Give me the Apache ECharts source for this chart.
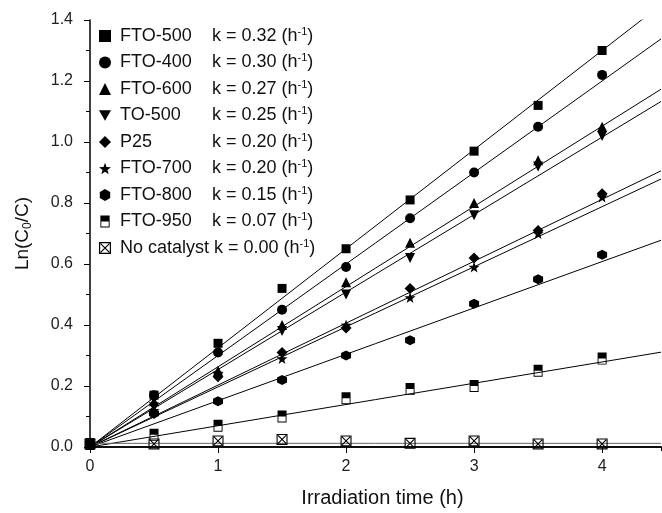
<!DOCTYPE html>
<html>
<head>
<meta charset="utf-8">
<script src="https://cdn.jsdelivr.net/npm/echarts@6/dist/echarts.min.js"></script>
<style>
  html, body { margin: 0; padding: 0; background: #fff; }
  #chart { width: 662px; height: 513px; }
</style>
</head>
<body>
<div id="chart"></div>
<script>
// irradiation times (h)
var times = [0, 0.5, 1, 1.5, 2, 2.5, 3, 3.5, 4];

// Ln(C0/C)
var fto500 = [0.01, 0.17, 0.34, 0.52, 0.65, 0.81, 0.97, 1.12, 1.30];
var fto400 = [0.01, 0.17, 0.31, 0.45, 0.59, 0.75, 0.90, 1.05, 1.22];
var fto600 = [0.01, 0.15, 0.25, 0.40, 0.54, 0.67, 0.80, 0.94, 1.05];
var to500 = [0.01, 0.13, 0.23, 0.38, 0.50, 0.62, 0.76, 0.92, 1.02];
var p25 = [0.01, 0.11, 0.23, 0.31, 0.39, 0.52, 0.62, 0.71, 0.83];
var fto700 = [0.01, 0.12, 0.24, 0.29, 0.40, 0.49, 0.59, 0.70, 0.82];
var fto800 = [0.01, 0.11, 0.15, 0.22, 0.30, 0.35, 0.47, 0.55, 0.63];
var fto950 = [0.01, 0.04, 0.07, 0.10, 0.16, 0.19, 0.20, 0.25, 0.29];
var noCat = [0.01, 0.01, 0.02, 0.025, 0.02, 0.012, 0.02, 0.01, 0.01];

var names = ['FTO-500', 'FTO-400', 'FTO-600', 'TO-500', 'P25', 'FTO-700', 'FTO-800', 'FTO-950', 'No catalyst'];
var kLabels = ['0.32', '0.30', '0.27', '0.25', '0.20', '0.20', '0.15', '0.07', '0.00'];
// slope / intercept of the fitted lines as drawn
var fitK = [0.325, 0.300, 0.263, 0.254, 0.203, 0.197, 0.152, 0.0697, 0];
var fitB = [0, 0, 0, 0, 0, 0, 0, 0, 0.012];

var xMax = 4.46;

var hexPath = 'path://M10 0 L18.66 5 L18.66 15 L10 20 L1.34 15 L1.34 5 Z';
var starPath = 'path://M10 0 L12.35 6.76 L19.51 6.91 L13.8 11.24 L15.88 18.09 L10 14 L4.12 18.09 L6.2 11.24 L0.49 6.91 L7.65 6.76 Z';
var halfPath = 'path://M0 0 L20 0 L20 26 L0 26 Z M2 13 L2 24 L18 24 L18 13 Z';
var boxXPath = 'path://M0 0 L20 0 L20 20 L0 20 Z M2 2 L2 18 L18 18 L18 2 Z M2 3.4 L3.4 2 L18 16.6 L16.6 18 Z M16.6 2 L18 3.4 L3.4 18 L2 16.6 Z';

var symbols = ['rect', 'circle', 'triangle', 'path://M0 0 L20 0 L10 17.3 Z', 'diamond', starPath, hexPath, halfPath, boxXPath];
var sizes = [9, 10, 10, 10, 11, 11, 10, [9, 12], 11];
var allData = [fto500, fto400, fto600, to500, p25, fto700, fto800, fto950, noCat];

var series = [];
names.forEach(function (nm, i) {
    series.push({
        name: nm,
        type: 'line',
        data: [[0, fitB[i]], [xMax, fitB[i] + fitK[i] * xMax]],
        showSymbol: false,
        symbol: 'none',
        silent: true,
        itemStyle: { color: '#000' },
        lineStyle: { color: i === 8 ? '#666' : '#000', width: 1 },
        z: 2
    });
});
names.forEach(function (nm, i) {
    series.push({
        name: nm,
        type: 'scatter',
        symbol: symbols[i],
        symbolSize: sizes[i],
        data: times.map(function (t, j) { return [t, allData[i][j]]; }),
        itemStyle: { color: '#000', opacity: 1 },
        z: 3
    });
});

var chart = echarts.init(document.getElementById('chart'));
chart.setOption({
    animation: false,
    backgroundColor: '#fff',
    color: ['#000'],
    textStyle: { fontFamily: 'Liberation Sans' },
    grid: { left: 90, right: 1, top: 20, bottom: 62 },
    legend: {
        orient: 'vertical',
        left: 94,
        top: 21,
        itemWidth: 12,
        itemHeight: 12,
        itemGap: 7.5,
        data: names.map(function (nm, i) {
            return { name: nm, icon: symbols[i], itemStyle: { color: '#000' } };
        }),
        formatter: function (nm) {
            var i = names.indexOf(nm);
            if (nm === 'No catalyst') {
                return '{m|No catalyst k = ' + kLabels[i] + ' (h}{s|-1}{k|)}';
            }
            return '{n|' + nm + '}{k|k = ' + kLabels[i] + ' (h}{s|-1}{k|)}';
        },
        textStyle: {
            fontSize: 18,
            color: '#111',
            rich: {
                n: { fontSize: 18, width: 92, lineHeight: 20, padding: [0, 0, 0, 4] },
                m: { fontSize: 18, lineHeight: 20, padding: [0, 0, 0, 4] },
                k: { fontSize: 18, lineHeight: 20 },
                s: { fontSize: 11, lineHeight: 12, verticalAlign: 'top' }
            }
        }
    },
    xAxis: [{
        type: 'value',
        min: 0,
        max: xMax,
        interval: 1,
        name: 'Irradiation time (h)',
        nameLocation: 'middle',
        nameGap: 41,
        nameTextStyle: { fontSize: 20, color: '#111', padding: [0, 0, 0, 14] },
        axisLine: { onZero: false, lineStyle: { color: '#000', width: 1.5 } },
        axisTick: { length: 6, lineStyle: { color: '#000' } },
        axisLabel: { fontSize: 16, color: '#222', margin: 12, showMaxLabel: false },
        splitLine: { show: false }
    }, {
        type: 'value',
        position: 'top',
        min: 0,
        max: xMax,
        interval: 1,
        axisLine: { lineStyle: { color: '#000', width: 1.5 } },
        axisTick: { inside: true, length: 4, lineStyle: { color: '#000' } },
        axisLabel: { show: false },
        splitLine: { show: false }
    }],
    yAxis: {
        type: 'value',
        min: 0,
        max: 1.4,
        interval: 0.2,
        name: '{a|Ln(C}{b|0}{a|/C)}',
        nameLocation: 'middle',
        nameGap: 56,
        nameTextStyle: {
            rich: {
                a: { fontSize: 19, color: '#111', lineHeight: 22 },
                b: { fontSize: 12, color: '#111', lineHeight: 14, verticalAlign: 'bottom' }
            }
        },
        axisLine: { show: true, lineStyle: { color: '#000', width: 1.5 } },
        axisTick: { length: 6, lineStyle: { color: '#000' } },
        minorTick: { show: true, splitNumber: 2, length: 4, lineStyle: { color: '#000' } },
        axisLabel: {
            fontSize: 16, color: '#222', margin: 17,
            formatter: function (v) { return v.toFixed(1); }
        },
        splitLine: { show: false }
    },
    series: series
});
</script>
</body>
</html>
